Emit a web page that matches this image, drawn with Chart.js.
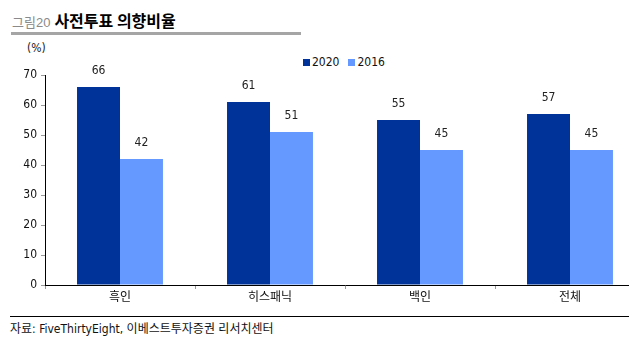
<!DOCTYPE html>
<html>
<head>
<meta charset="utf-8">
<script src="https://cdn.jsdelivr.net/npm/chart.js@4/dist/chart.umd.min.js"></script>
<style>
  html, body { margin:0; padding:0; background:#fff; }
  body { width:629px; height:345px; position:relative; overflow:hidden;
         font-family:'Liberation Sans Narrow','DejaVu Sans Condensed','Noto Sans CJK KR',sans-serif; }
  #title { position:absolute; left:12px; top:8px; white-space:nowrap; }
  #title .fig { color:#8a8a8a; font-size:13px; font-family:'Liberation Sans','Noto Sans CJK KR',sans-serif; }
  #title .main { color:#000; font-size:16px; font-weight:bold; font-family:'Noto Sans CJK KR',sans-serif; margin-left:4px; }
  #tline { position:absolute; left:11px; top:32px; width:290px; height:3px; background:#a5a5a5; }
  #unit { position:absolute; left:27px; top:41px; font-size:12px; color:#222; }
  #legend { position:absolute; left:303px; top:55px; font-size:12px; color:#111; white-space:nowrap; }
  #legend span.sw { display:inline-block; width:7px; height:7px; margin-right:2px; vertical-align:0px; }
  #legend span.it { margin-right:9px; }
  #wrap { position:absolute; left:0; top:40px; width:629px; height:275px; overflow:hidden; }
  #fline { position:absolute; left:10px; top:316px; width:619px; height:1px; background:#000; }
  #src { position:absolute; left:10px; top:319px; font-size:12px; color:#111; white-space:nowrap; }
</style>
</head>
<body>
<div id="title"><span class="fig">그림20</span><span class="main">사전투표 의향비율</span></div>
<div id="tline"></div>
<div id="unit">(%)</div>
<div id="legend"><span class="it"><span class="sw" style="background:#003399"></span>2020</span><span class="it"><span class="sw" style="background:#6699ff"></span>2016</span></div>
<div id="wrap"><canvas id="c"></canvas></div>
<div id="fline"></div>
<div id="src">자료: FiveThirtyEight, 이베스트투자증권 리서치센터</div>
<script>
const categories = ['흑인', '히스패닉', '백인', '전체'];
const series2020 = [66, 61, 55, 57];
const series2016 = [42, 51, 45, 45];
const seriesNames = ['2020', '2016'];
const yTicks = [0, 10, 20, 30, 40, 50, 60, 70];

const FONT = "'Liberation Sans Narrow','DejaVu Sans Condensed','Noto Sans CJK KR',sans-serif";

const labelPlugin = {
  id: 'valueLabels',
  afterDatasetsDraw(chart) {
    const ctx = chart.ctx;
    ctx.save();
    ctx.font = '12px ' + FONT;
    ctx.fillStyle = '#222';
    ctx.textAlign = 'center';
    ctx.textBaseline = 'bottom';
    chart.data.datasets.forEach((ds, i) => {
      chart.getDatasetMeta(i).data.forEach((bar, j) => {
        ctx.fillText(String(ds.data[j]), bar.x, bar.y - 10);
      });
    });
    ctx.restore();
  }
};

const canvas = document.getElementById('c');
canvas.width = 660; canvas.height = 275;
canvas.style.width = '660px'; canvas.style.height = '275px';

new Chart(canvas, {
  type: 'bar',
  data: {
    labels: categories,
    datasets: [
      { label: seriesNames[0], data: series2020, backgroundColor: '#003399', borderWidth: 0,
        categoryPercentage: 0.573, barPercentage: 1.0 },
      { label: seriesNames[1], data: series2016, backgroundColor: '#6699ff', borderWidth: 0,
        categoryPercentage: 0.573, barPercentage: 1.0 }
    ]
  },
  options: {
    responsive: false,
    animation: false,
    devicePixelRatio: 1,
    layout: { padding: { top: 35, right: 15, left: 0, bottom: 0 } },
    plugins: { legend: { display: false }, tooltip: { enabled: false } },
    scales: {
      x: {
        offset: true,
        grid: { offset: true, drawOnChartArea: false, tickLength: 4, color: '#999' },
        border: { color: '#000', width: 1 },
        ticks: { color: '#111', font: { size: 12, family: FONT }, padding: 2 },
        afterFit(s) { s.height = 30; }
      },
      y: {
        min: 0, max: 70,
        afterBuildTicks(s) { s.ticks = yTicks.map(v => ({ value: v })); },
        grid: { drawOnChartArea: false, tickLength: 4, color: '#999' },
        border: { color: '#000', width: 1 },
        ticks: { color: '#111', font: { size: 12, family: FONT }, padding: 4 },
        afterFit(s) { s.width = 45; }
      }
    }
  },
  plugins: [labelPlugin]
});
</script>
</body>
</html>
